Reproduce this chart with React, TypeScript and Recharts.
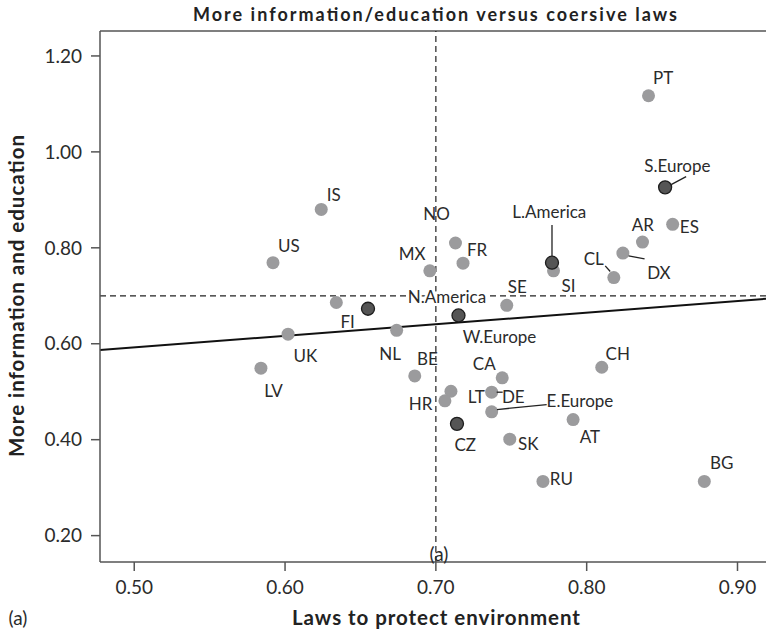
import { ScatterChart, Scatter, XAxis, YAxis, ReferenceLine } from "recharts"

// Country scores: x = laws to protect environment, y = more information and education
const countryNames = ["PT", "IS", "US", "FI", "UK", "LV", "NL", "NO", "FR", "MX", "SE", "SI", "AR", "ES", "DX", "CL", "CH", "BE", "CA", "LT", "HR", "DE", "E.Europe", "AT", "SK", "RU", "BG"]
const countryLaws = [0.841, 0.624, 0.592, 0.634, 0.602, 0.584, 0.674, 0.713, 0.718, 0.696, 0.747, 0.778, 0.837, 0.857, 0.824, 0.818, 0.810, 0.686, 0.744, 0.710, 0.706, 0.737, 0.737, 0.791, 0.749, 0.771, 0.878]
const countryInfo = [1.117, 0.880, 0.769, 0.686, 0.620, 0.549, 0.628, 0.810, 0.768, 0.752, 0.680, 0.752, 0.812, 0.849, 0.789, 0.738, 0.551, 0.533, 0.529, 0.501, 0.481, 0.499, 0.458, 0.442, 0.401, 0.313, 0.313]

// Regional averages
const regionNames = ["S.Europe", "L.America", "N.America", "W.Europe", "CZ"]
const regionLaws = [0.852, 0.777, 0.655, 0.715, 0.714]
const regionInfo = [0.926, 0.769, 0.673, 0.659, 0.433]

// Axis ticks and the reference cut-offs
const xTicks = [0.5, 0.6, 0.7, 0.8, 0.9]
const yTicks = [0.2, 0.4, 0.6, 0.8, 1.0, 1.2]
const xDomain = [0.4773, 0.9189]
const yDomain = [0.145, 1.252]
const cutLaws = 0.7
const cutInfo = 0.7

// Fitted trend line
const trendIntercept = 0.4715
const trendSlope = 0.2418

const countries = countryNames.map((name, i) => ({ name, x: countryLaws[i], y: countryInfo[i] }))
const regions = regionNames.map((name, i) => ({ name, x: regionLaws[i], y: regionInfo[i] }))
const allPoints = [...countries, ...regions]

// label placement relative to the dot centre (px)
const labelOffset: Record<string, [number, number]> = {
  PT: [14.6, -18.7], IS: [12.6, -14.7], US: [16, -17.3], FI: [11.3, 19], UK: [17.3, 21.7],
  LV: [12.6, 22.4], NL: [-6.6, 23.3], NO: [-19, -30], FR: [14, -14], MX: [-17.6, -17],
  SE: [10.6, -18.4], SI: [15, 15], AR: [0.4, -17.3], ES: [16.7, 1.7], DX: [36, 19],
  CL: [-20, -19.4], CH: [16, -13.7], BE: [12.7, -17.7], CA: [-18, -14.3], LT: [25.3, 5],
  HR: [-24.3, 2.3], DE: [21.6, 4.6], "E.Europe": [88.3, -11.6], AT: [16.7, 17.3],
  SK: [18.4, 4.7], RU: [18.4, -3.4], BG: [17.3, -19],
  "S.Europe": [12.3, -21.7], "L.America": [-2.7, -51], "N.America": [79, -12.3],
  "W.Europe": [41, 21], CZ: [8.3, 20.7],
}

// leader lines from dot to label (x1, y1, x2, y2 relative to dot)
const leaders: Record<string, [number, number, number, number]> = {
  "S.Europe": [6, -2.7, 21, -10.7],
  "L.America": [0, -37.7, 0, -6.7],
  DX: [5.7, 2.7, 21.7, 5.7],
  CL: [-8.6, -11.7, -3.6, -6],
  "E.Europe": [5.3, -2.3, 55, -7.3],
  DE: [5, 0, 11, 0],
}

const FONT = "Lato, 'DejaVu Sans', sans-serif"
const INK = "#2b2b2b"

const GrayDot = (props: any) => (
  <circle cx={props.cx} cy={props.cy} r={6.5} fill="#9b9b9d" />
)

const DarkDot = (props: any) => (
  <circle cx={props.cx} cy={props.cy} r={6.5} fill="#555" stroke="#1e1e1e" strokeWidth={1.3} />
)

const PointLabel = (props: any) => {
  const { cx, cy, payload } = props
  const [dx, dy] = labelOffset[payload.name] || [12, -14]
  const lead = leaders[payload.name]
  const knockout = payload.name === "N.America"
  return (
    <g>
      {lead && (
        <line x1={cx + lead[0]} y1={cy + lead[1]} x2={cx + lead[2]} y2={cy + lead[3]} stroke="#222" strokeWidth={1.3} />
      )}
      <text
        x={cx + dx}
        y={cy + dy}
        textAnchor="middle"
        dominantBaseline="central"
        fontFamily={FONT}
        fontSize={17}
        fill={INK}
        stroke={knockout ? "#fff" : "none"}
        strokeWidth={knockout ? 5 : 0}
        paintOrder="stroke"
      >
        {payload.name}
      </text>
    </g>
  )
}

export default function App() {
  const trendStart = { x: xDomain[0], y: trendIntercept + trendSlope * xDomain[0] }
  const trendEnd = { x: xDomain[1], y: trendIntercept + trendSlope * xDomain[1] }

  return (
    <div style={{ position: "absolute", left: 0, top: 0, width: 766, height: 634, background: "#fff" }}>
      <ScatterChart width={766} height={634} margin={{ top: 31, right: 0, bottom: 0, left: 0 }}>
        <XAxis
          type="number"
          dataKey="x"
          domain={xDomain}
          ticks={xTicks}
          allowDataOverflow
          height={72}
          tickFormatter={(v: number) => v.toFixed(2)}
          tick={{ fill: INK, fontSize: 19, fontFamily: FONT }}
          tickSize={9}
          tickMargin={10}
          axisLine={{ stroke: "#555", strokeWidth: 1.5 }}
          tickLine={{ stroke: "#555", strokeWidth: 1.5 }}
        />
        <YAxis
          type="number"
          dataKey="y"
          domain={yDomain}
          ticks={yTicks}
          allowDataOverflow
          width={100}
          tickFormatter={(v: number) => v.toFixed(2)}
          tick={{ fill: INK, fontSize: 19, fontFamily: FONT }}
          tickSize={9}
          tickMargin={9}
          axisLine={{ stroke: "#555", strokeWidth: 1.5 }}
          tickLine={{ stroke: "#555", strokeWidth: 1.5 }}
        />
        <ReferenceLine y={yDomain[1]} stroke="#555" strokeWidth={1.5} />
        <ReferenceLine x={cutLaws} stroke="#222" strokeWidth={1.2} strokeDasharray="6 4" />
        <ReferenceLine y={cutInfo} stroke="#222" strokeWidth={1.2} strokeDasharray="6 4" />
        <ReferenceLine segment={[trendStart, trendEnd]} stroke="#111" strokeWidth={2} />
        <Scatter data={countries} shape={GrayDot} isAnimationActive={false} />
        <Scatter data={regions} shape={DarkDot} isAnimationActive={false} />
        <Scatter data={allPoints} shape={PointLabel} isAnimationActive={false} />
      </ScatterChart>
      <svg width={766} height={634} style={{ position: "absolute", left: 0, top: 0, pointerEvents: "none" }}>
        <text x={435} y={20.7} textAnchor="middle" fontFamily={FONT} fontWeight="bold" fontSize={18} fill="#222" textLength={484} lengthAdjust="spacing">
          More information/education versus coersive laws
        </text>
        <text x={436} y={624.5} textAnchor="middle" fontFamily={FONT} fontWeight="bold" fontSize={20.5} fill="#222" textLength={288} lengthAdjust="spacing">
          Laws to protect environment
        </text>
        <text
          x={24}
          y={296}
          transform="rotate(-90 24 296)"
          textAnchor="middle"
          fontFamily={FONT}
          fontWeight="bold"
          fontSize={20.5}
          fill="#222"
          textLength={322}
          lengthAdjust="spacing"
        >
          More information and education
        </text>
        <text x={439} y={561} textAnchor="middle" fontFamily={FONT} fontSize={19} fill={INK}>(a)</text>
        <text x={18} y={625} textAnchor="middle" fontFamily={FONT} fontSize={19} fill={INK}>(a)</text>
      </svg>
    </div>
  )
}
